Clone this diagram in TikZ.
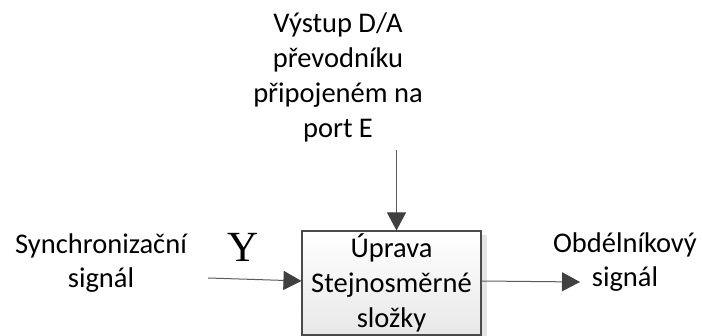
\documentclass[tikz,border=0pt]{standalone}
\usepackage{fontspec}
\setmainfont{Carlito}
\newfontfamily\yfont{Liberation Serif}
\usetikzlibrary{arrows.meta}
\definecolor{linegray}{HTML}{5A5A5A}
\definecolor{tipgray}{HTML}{404040}
\definecolor{boxline}{HTML}{4A4A4A}
\definecolor{shadowgray}{HTML}{E4E4E4}
\tikzset{
  lbl/.style={align=center, inner sep=0pt, font=\fontsize{28.5}{34.8}\selectfont, text=black},
  blockbox/.style={draw=boxline, line width=1.1pt, minimum width=179pt, minimum height=104pt,
    inner sep=0pt, align=center, top color=white, bottom color=black!9,
    font=\fontsize{28.5}{34.8}\selectfont},
  conn/.style={draw=linegray, line width=1pt, -{Triangle[length=18pt,width=19pt,fill=tipgray,color=tipgray]}}
}
\begin{document}
\begin{tikzpicture}[x=1pt,y=-1pt]
\useasboundingbox (0,0) rectangle (702,336);
% shadow
\fill[shadowgray] (481,235) rectangle (487,336);
\node[blockbox] (box) at (391.5,283) {Úprava\\Stejnosměrné\\složky};
\node[lbl] (top) at (338,77.5) {Výstup D/A\\převodníku\\připojeném na\\port E};
\node[lbl] (left) at (101,263) {Synchronizační\\signál};
\node[lbl] (right) at (625,262) {Obdélníkový\\signál};
\node[inner sep=0pt, font=\yfont\fontsize{43}{43}\selectfont] (y) at (243,247) {Y};
\coordinate (topstart) at (396.5,150);
\coordinate (leftstart) at (208,278);
\coordinate (rightend) at (580,282);
\draw[conn] (topstart) -- (topstart |- box.north);
\draw[conn] (leftstart) -- (box.west |- 0,281);
\draw[conn] (box.east |- 0,281) -- (rightend);
\end{tikzpicture}
\end{document}
